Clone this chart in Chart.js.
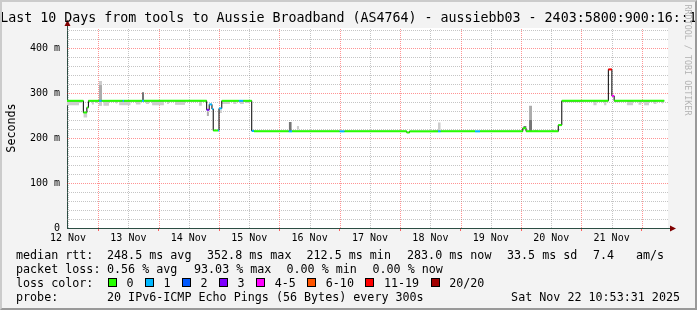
<!DOCTYPE html>
<html>
<head>
<meta charset="utf-8">
<script src="https://cdn.jsdelivr.net/npm/chart.js@4.4.0/dist/chart.umd.min.js"></script>
<style>
  body { margin:0; background:#fff; }
  #wrap { position:relative; width:697px; height:310px; background:#f3f3f3; overflow:hidden;
          font-family:"DejaVu Sans Mono", monospace; color:#000; }
  #wrap canvas { position:absolute; left:0; top:0; }
  .t { position:absolute; white-space:pre; font-size:11.7px; line-height:14px; }
  #title { position:absolute; left:0; top:10px; width:697px; text-align:center; white-space:pre;
           font-size:13.3px; line-height:16px; }
  #ylab { position:absolute; left:-19.5px; top:121px; width:60px; height:14px; line-height:14px;
          text-align:center; font-size:11.7px; transform:rotate(-90deg); }
  #rrd { position:absolute; left:628px; top:54.5px; width:120px; height:10px; line-height:10px;
         text-align:center; font-size:8.4px; color:#b4b4b4; transform:rotate(90deg); white-space:pre; }
  .box { position:absolute; width:9px; height:9px; box-sizing:border-box; border:1px solid #000; }
  #frame { position:absolute; left:0; top:0; width:697px; height:310px; box-sizing:border-box;
           border-style:solid; border-width:2px; border-color:#cbcbcb #999 #999 #cbcbcb; pointer-events:none; }
</style>
</head>
<body>
<div id="wrap">
  <canvas id="chart" width="697" height="310"></canvas>
  <div id="title">Last 10 Days from tools to Aussie Broadband (AS4764) - aussiebb03 - 2403:5800:900:16::1</div>
  <div id="ylab">Seconds</div>
  <div id="rrd">RRDTOOL / TOBI OETIKER</div>

  <div class="t" style="left:16px;top:247.5px">median rtt:</div>
  <div class="t" style="left:107px;top:247.5px">248.5 ms avg</div>
  <div class="t" style="left:207px;top:247.5px">352.8 ms max</div>
  <div class="t" style="left:306.5px;top:247.5px">212.5 ms min</div>
  <div class="t" style="left:407px;top:247.5px">283.0 ms now</div>
  <div class="t" style="left:507px;top:247.5px">33.5 ms sd</div>
  <div class="t" style="left:593px;top:247.5px">7.4</div>
  <div class="t" style="left:636px;top:247.5px">am/s</div>

  <div class="t" style="left:16px;top:261.5px">packet loss:</div>
  <div class="t" style="left:107px;top:261.5px">0.56 % avg</div>
  <div class="t" style="left:194px;top:261.5px">93.03 % max</div>
  <div class="t" style="left:286.5px;top:261.5px">0.00 % min</div>
  <div class="t" style="left:372.5px;top:261.5px">0.00 % now</div>

  <div class="t" style="left:16px;top:275.5px">loss color:</div>
  <div id="lossLegend"></div>

  <div class="t" style="left:16px;top:289.5px">probe:</div>
  <div class="t" style="left:107px;top:289.5px">20 IPv6-ICMP Echo Pings (56 Bytes) every 300s</div>
  <div class="t" style="right:17px;top:289.5px">Sat Nov 22 10:53:31 2025</div>
  <div id="frame"></div>
</div>

<script>
// время - часы от 12 Nov 00:00
const xMin = 11.6, xMax = 250.4;
const xTicks = [12, 24, 36, 48, 60, 72, 84, 96, 108, 120, 132, 144, 156, 168, 180, 192, 204, 216, 228, 240];
const yTicks = [0, 20, 40, 60, 80, 100, 120, 140, 160, 180, 200, 220, 240, 260, 280, 300, 320, 340, 360, 380, 400, 420, 440];

// потери: подписи и цвета
const lossLabels = ['0', '1', '2', '3', '4-5', '6-10', '11-19', '20/20'];
const lossColors = ['#26ff00', '#00b8ff', '#0059ff', '#7e00ff', '#ff00ff', '#ff5500', '#ff0000', '#a10000'];

// медиана (ms): начало шага, значение, класс потерь
const medTime = [11.6, 18.1, 19.5, 20.1, 24.4, 25.4, 33.7, 34.25, 41.4, 42.2, 67.1, 68.1, 69.2, 69.7, 71.6, 72.0, 73.1, 79.9, 81.65,
  85.0, 85.9, 99.7, 101.0, 119.95, 121.9, 146.6, 147.7, 159.0, 160.1, 173.7, 175.7, 192.7, 194.0, 206.8, 208.2, 226.7, 228.1, 229.0];
const medRtt = [283, 257, 268, 283, 283, 283, 283, 283, 283, 283, 263, 275, 265, 217, 217, 266, 283, 283, 283,
  216, 215, 215, 215, 215, 215, 212.5, 215, 215, 215, 215, 215, 222, 215, 229, 283, 352.8, 294, 283];
const medLoss = [0, 0, 0, 0, 1, 0, 1, 0, 1, 0, 3, 1, 1, 0, 1, 1, 0, 1, 0,
  1, 0, 1, 0, 1, 0, 0, 0, 1, 0, 1, 0, 0, 0, 0, 0, 6, 4, 0];
const medEnd = 248.9;

// "дым" - разброс пингов
const lightStart = [11.6, 16.4, 18.1, 21.4, 22.9, 24.2, 24.3, 26.0, 30.9, 32.3, 38.9, 42.9, 45.4, 51.3, 54.5, 64.0, 72.0, 73.2, 77.6, 80.3, 82.7,
  102.9, 157.0, 159.0, 197.2, 204.2, 208.7, 220.7, 225.0, 229.0, 234.0, 238.6, 240.9, 244.6, 247.9];
const lightEnd = [16.4, 17.6, 19.7, 22.3, 23.6, 25.5, 25.5, 28.3, 31.6, 36.9, 40.9, 44.2, 50.1, 52.1, 58.5, 65.2, 73.2, 76.4, 79.0, 81.9, 84.3,
  103.8, 159.0, 160.1, 198.8, 205.1, 216.6, 222.1, 226.0, 231.4, 236.6, 239.9, 242.9, 245.9, 248.5];
const lightLo = [273, 278, 246, 275, 278, 272, 318, 272, 277, 273, 275, 276, 273, 276, 274, 272, 256, 276, 276, 276, 278,
  219, 215, 216, 215, 216, 280, 273, 273, 280, 273, 274, 273, 276, 277];
const lightHi = [283, 283, 257, 283, 283, 283, 327, 283, 283, 283, 283, 283, 283, 283, 283, 283, 262, 283, 283, 283, 283,
  227, 218, 235, 218, 220, 283, 283, 283, 283, 283, 283, 283, 283, 283];

const midStart = [24.3, 67.1, 195.2];
const midEnd = [25.5, 68.0, 196.4];
const midLo = [283, 249, 241];
const midHi = [318, 259, 272];

const darkStart = [41.4, 99.7, 195.2, 192.9];
const darkEnd = [42.2, 100.9, 196.4, 194.2];
const darkLo = [283, 216, 216, 222];
const darkHi = [302, 236, 241, 227];

// легенда цветов потерь
const legendDiv = document.getElementById('lossLegend');
let lx = 108;
lossLabels.forEach((lab, i) => {
  const b = document.createElement('div');
  b.className = 'box';
  b.style.left = lx + 'px'; b.style.top = '278px'; b.style.background = lossColors[i];
  legendDiv.appendChild(b);
  const t = document.createElement('div');
  t.className = 't';
  t.style.left = (lx + 18.5) + 'px'; t.style.top = '275.5px';
  t.textContent = lab;
  legendDiv.appendChild(t);
  lx += 30 + lab.length * 7.04;
});

function smokeSets(start, end, lo, hi, color, order) {
  const top = [], bottom = [];
  start.forEach((s, i) => {
    top.push({x: s, y: hi[i]}, {x: end[i], y: hi[i]}, {x: end[i], y: null});
    bottom.push({x: s, y: lo[i]}, {x: end[i], y: lo[i]}, {x: end[i], y: null});
  });
  return [
    { data: top, showLine: false, pointRadius: 0, fill: false, order: order },
    { data: bottom, showLine: false, pointRadius: 0, fill: '-1', backgroundColor: color, order: order }
  ];
}

const medLine = medTime.map((t, i) => ({x: t, y: medRtt[i]}));
medLine.push({x: medEnd, y: medRtt[medRtt.length - 1]});

const medColored = [];
medTime.forEach((t, i) => {
  const e = i + 1 < medTime.length ? medTime[i + 1] : medEnd;
  medColored.push({x: t, y: medRtt[i]}, {x: e, y: medRtt[i]}, {x: e, y: null});
});

const gridRed = 'rgba(255,0,0,0.42)';
const gridGray = 'rgba(140,140,140,0.5)';

// белое поле, пунктирная сетка, стрелки осей
const rrdLook = {
  id: 'rrdLook',
  beforeDraw(chart) {
    const {ctx, chartArea: a} = chart;
    ctx.save();
    ctx.fillStyle = '#ffffff';
    ctx.fillRect(a.left, a.top, a.right - a.left, a.bottom - a.top);
    ctx.restore();
  },
  beforeDatasetsDraw(chart) {
    const {ctx, chartArea: a, scales: {x, y}} = chart;
    ctx.save();
    ctx.lineWidth = 1;
    ctx.setLineDash([1, 1]);
    xTicks.forEach(v => {
      const px = Math.round(x.getPixelForValue(v)) + 0.5;
      ctx.strokeStyle = v % 24 === 0 ? gridRed : gridGray;
      ctx.beginPath(); ctx.moveTo(px, a.bottom); ctx.lineTo(px, a.top); ctx.stroke();
    });
    yTicks.forEach(v => {
      if (v === 0) return;
      const py = Math.round(y.getPixelForValue(v)) + 0.5;
      ctx.strokeStyle = v % 100 === 0 ? gridRed : gridGray;
      ctx.beginPath(); ctx.moveTo(a.left, py); ctx.lineTo(a.right, py); ctx.stroke();
    });
    ctx.restore();
  },
  afterDraw(chart) {
    const {ctx, chartArea: a} = chart;
    ctx.save();
    ctx.strokeStyle = '#2c4d43';
    ctx.lineWidth = 1;
    ctx.beginPath();
    ctx.moveTo(a.left + 0.5, a.top); ctx.lineTo(a.left + 0.5, a.top - 3);
    ctx.moveTo(a.right, a.bottom + 0.5); ctx.lineTo(a.right + 3, a.bottom + 0.5);
    ctx.stroke();
    ctx.fillStyle = '#7f0000';
    ctx.beginPath();
    ctx.moveTo(a.left + 0.5, a.top - 8); ctx.lineTo(a.left - 2.5, a.top - 2); ctx.lineTo(a.left + 3.5, a.top - 2);
    ctx.closePath(); ctx.fill();
    ctx.beginPath();
    ctx.moveTo(a.right + 8, a.bottom + 0.5); ctx.lineTo(a.right + 2, a.bottom - 2.5); ctx.lineTo(a.right + 2, a.bottom + 3.5);
    ctx.closePath(); ctx.fill();
    ctx.restore();
  }
};

new Chart(document.getElementById('chart'), {
  type: 'line',
  data: {
    datasets: [
      { data: medColored, borderWidth: 2, pointRadius: 0, borderCapStyle: 'butt', order: 0,
        segment: { borderColor: c => lossColors[medLoss[Math.floor(c.p0DataIndex / 3)]] } },
      { data: medLine, stepped: true, borderColor: '#000000', borderWidth: 1, pointRadius: 0, order: 1 },
      ...smokeSets(darkStart, darkEnd, darkLo, darkHi, '#757575', 2),
      ...smokeSets(midStart, midEnd, midLo, midHi, '#acacac', 3),
      ...smokeSets(lightStart, lightEnd, lightLo, lightHi, '#cdcdcd', 4)
    ]
  },
  options: {
    responsive: false,
    animation: false,
    layout: { padding: { left: 0, top: 28, right: 29, bottom: 62 } },
    plugins: { legend: { display: false }, tooltip: { enabled: false } },
    scales: {
      x: {
        type: 'linear', min: xMin, max: xMax,
        afterBuildTicks: s => { s.ticks = xTicks.map(v => ({value: v})); },
        afterFit: s => { s.height = 20; },
        ticks: {
          autoSkip: false, maxRotation: 0, minRotation: 0, padding: 1, color: '#000',
          font: { family: 'DejaVu Sans Mono', size: 10 },
          callback: v => (v % 24 === 12 ? (12 + Math.floor(v / 24)) + ' Nov' : '')
        },
        grid: {
          drawOnChartArea: false,
          tickColor: c => (c.tick && c.tick.value % 24 === 0 ? 'rgba(255,0,0,0.6)' : 'rgba(0,0,0,0)'),
          tickLength: 3, lineWidth: 1
        },
        border: { display: true, color: '#2c4d43', width: 1 }
      },
      y: {
        min: 0, max: 445,
        afterBuildTicks: s => { s.ticks = yTicks.map(v => ({value: v})); },
        afterFit: s => { s.width = 67; },
        ticks: {
          autoSkip: false, padding: 7, color: '#000',
          font: { family: 'DejaVu Sans Mono', size: 10 },
          callback: v => (v % 100 === 0 ? (v === 0 ? '0' : v + ' m') : '')
        },
        grid: { drawOnChartArea: false, drawTicks: false },
        border: { display: true, color: '#2c4d43', width: 1 }
      }
    }
  },
  plugins: [rrdLook]
});
</script>
</body>
</html>
